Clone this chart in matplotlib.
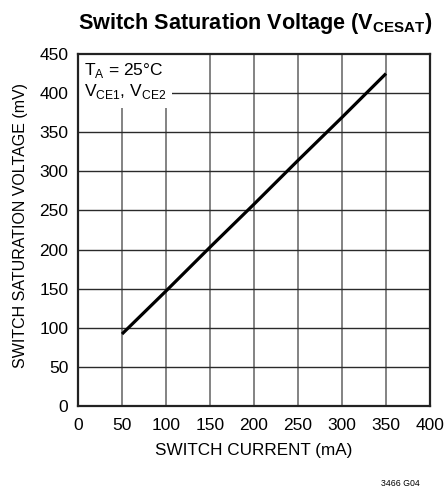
import matplotlib
matplotlib.use("Agg")
import matplotlib.pyplot as plt
from matplotlib.patches import Rectangle

# switch current (mA) vs saturation voltage (mV)
corriente = [50, 100, 150, 200, 250, 300, 350]
voltaje = [92, 147, 203, 258, 314, 369, 425]
xticks = [0, 50, 100, 150, 200, 250, 300, 350, 400]
yticks = [0, 50, 100, 150, 200, 250, 300, 350, 400, 450]

fuente = "Liberation Sans"
plt.rcParams["font.family"] = [fuente, "DejaVu Sans"]
plt.rcParams["mathtext.fontset"] = "custom"
plt.rcParams["mathtext.rm"] = fuente
plt.rcParams["mathtext.bf"] = fuente + ":bold"

fig = plt.figure(figsize=(4.46, 4.88), dpi=100)
ax = fig.add_axes([78 / 446, 1 - 406 / 488, 352 / 446, 352 / 488])

ax.set_xlim(0, 400)
ax.set_ylim(0, 450)
ax.set_xticks(xticks)
ax.set_yticks(yticks)
ax.tick_params(length=0, labelsize=12.5)
ax.tick_params(axis="y", pad=7)
ax.tick_params(axis="x", pad=9)
for x in xticks[1:-1]:
    ax.axvline(x, color="#7a7a7a", lw=1.3, zorder=1)
for y in yticks[1:-1]:
    ax.axhline(y, color="#2a2a2a", lw=1.0, zorder=1)
for s in ax.spines.values():
    s.set_linewidth(1.6)
    s.set_color("#222222")

# fondo blanco detras de la leyenda de condiciones
ax.add_patch(Rectangle((0, 381), 107, 69, facecolor="white", edgecolor="none", zorder=2))
ax.text(7, 441, r"T$_\mathrm{A}$ = 25°C", fontsize=12.5, va="top", zorder=3)
ax.text(7, 414, r"V$_\mathrm{CE1}$, V$_\mathrm{CE2}$", fontsize=12.5, va="top", zorder=3)

ax.plot(corriente, voltaje, color="black", lw=2.3, zorder=4, solid_capstyle="butt")

ax.set_xlabel("SWITCH CURRENT (mA)", fontsize=12.3)
ax.xaxis.label.set_va("center")
ax.xaxis.set_label_coords(0.5, (406 - 451) / 352)
ax.set_ylabel("SWITCH SATURATION VOLTAGE (mV)", fontsize=11.5)
ax.yaxis.label.set_va("center")
ax.yaxis.set_label_coords((20 - 78) / 352, (406 - 225) / 352)

fig.text(255.5 / 446, 1 - 24 / 488, r"Switch Saturation Voltage (V$_\mathbf{CESAT}$)",
         fontsize=15.6, fontweight="bold", ha="center", va="center")
fig.text(420 / 446, 1 - 483 / 488, "3466 G04", fontsize=6.3, ha="right", va="center")

fig.savefig("out.png", dpi=100)
